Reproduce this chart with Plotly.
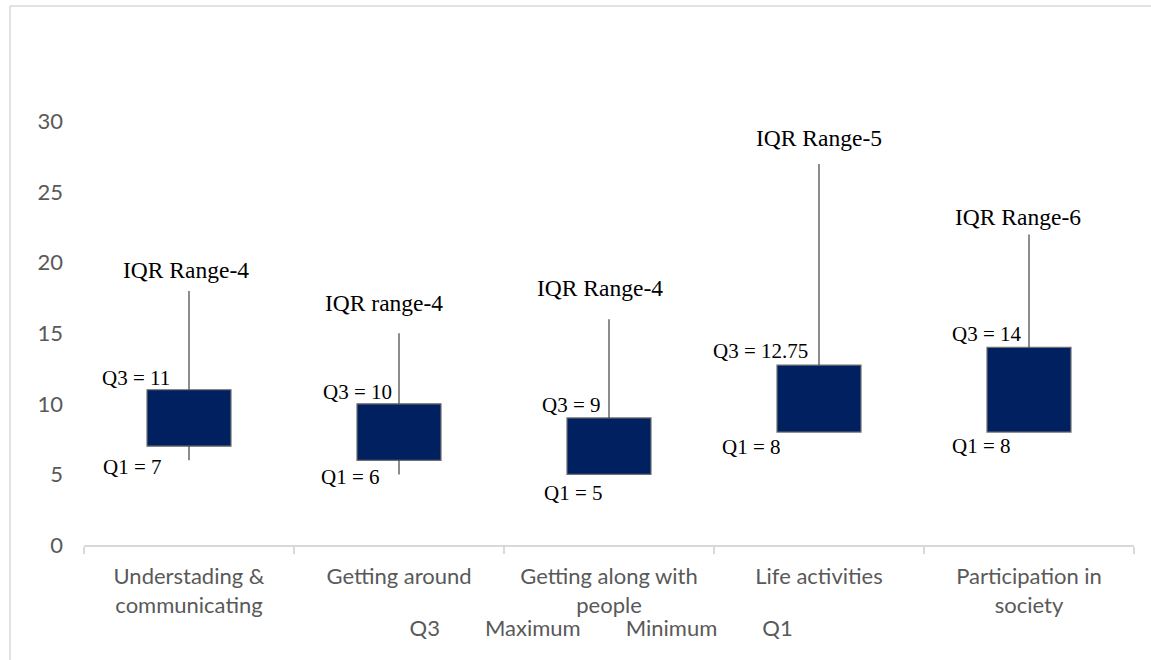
import plotly.graph_objects as go

categories = ["Understading &<br>communicating", "Getting around",
              "Getting along with<br>people", "Life activities",
              "Participation in<br>society"]
q1 = [7, 6, 5, 8, 8]
q3 = [11, 10, 9, 12.75, 14]
maximum = [18, 15, 16, 27, 22]
minimum = [6, 5, 5, 8, 8]
iqr_labels = ["IQR Range-4", "IQR range-4", "IQR Range-4", "IQR Range-5", "IQR Range-6"]
q3_labels = ["Q3 = 11", "Q3 = 10", "Q3 = 9", "Q3 = 12.75", "Q3 = 14"]
q1_labels = ["Q1 = 7", "Q1 = 6", "Q1 = 5", "Q1 = 8", "Q1 = 8"]

# label offsets (pixels)
iqr_shift = [(-3, 21), (-15, 30), (-9, 31), (0, 26), (-11, 17)]
q3_shift = [(-17, 12), (-5, 12), (-6, 13), (-9, 14), (-5, 13)]
q1_shift = [(-25, -21), (-17, -17), (-4, -19), (-36, -15), (-16, -14)]

BOX = "#002060"
GRAY_TXT = "#595959"
AX = "#d9d9d9"
SANS = "Lato, 'Open Sans', sans-serif"
SERIF = "'Liberation Serif', 'Times New Roman', serif"

fig = go.Figure()

# whiskers
wx, wy = [], []
for c, lo, a, b, hi in zip(categories, minimum, q1, q3, maximum):
    wx += [c, c, None, c, c, None]
    wy += [b, hi, None, lo, a, None]
fig.add_trace(go.Scatter(x=wx, y=wy, mode="lines", line=dict(color="#404040", width=1.2),
                         showlegend=False, hoverinfo="skip"))

# boxes (Q1..Q3)
fig.add_trace(go.Bar(x=categories, y=[b - a for a, b in zip(q1, q3)], base=q1,
                     width=0.4, marker=dict(color=BOX, line=dict(color="#707070", width=1.2)),
                     showlegend=False))

# legend entries (series of the stock chart, drawn invisibly)
for name, vals in [("Q3", q3), ("Maximum", maximum), ("Minimum", minimum), ("Q1", q1)]:
    fig.add_trace(go.Scatter(x=categories, y=vals, mode="lines", name=name,
                             line=dict(width=0, color="rgba(0,0,0,0)"), hoverinfo="skip"))

ann = []
for i, c in enumerate(categories):
    ann.append(dict(x=c, y=maximum[i], text=iqr_labels[i], showarrow=False,
                    xanchor="center", yanchor="middle",
                    xshift=iqr_shift[i][0], yshift=iqr_shift[i][1],
                    font=dict(family=SERIF, size=23.5, color="#000000")))
    ann.append(dict(x=c, y=q3[i], text=q3_labels[i], showarrow=False,
                    xanchor="right", yanchor="middle",
                    xshift=q3_shift[i][0], yshift=q3_shift[i][1],
                    font=dict(family=SERIF, size=21, color="#000000")))
    ann.append(dict(x=c, y=q1[i], text=q1_labels[i], showarrow=False,
                    xanchor="right", yanchor="middle",
                    xshift=q1_shift[i][0], yshift=q1_shift[i][1],
                    font=dict(family=SERIF, size=21, color="#000000")))

fig.update_layout(
    width=1151, height=660,
    margin=dict(l=84, r=17, t=51, b=114),
    paper_bgcolor="white", plot_bgcolor="white",
    barmode="overlay",
    annotations=ann,
    showlegend=True,
    legend=dict(orientation="h", x=0.272, xanchor="left", y=-0.165, yanchor="middle",
                font=dict(family=SANS, size=22, color=GRAY_TXT), itemwidth=30,
                bgcolor="rgba(0,0,0,0)"),
    font=dict(family=SANS, color=GRAY_TXT),
    shapes=[
        dict(type="line", xref="paper", yref="paper", x0=-0.0705, x1=1.02, y0=1.0909, y1=1.0909,
             line=dict(color=AX, width=1.5)),
        dict(type="line", xref="paper", yref="paper", x0=-0.0705, x1=-0.0705, y0=1.0909, y1=-0.25,
             line=dict(color=AX, width=1.5)),
    ],
)
fig.update_xaxes(type="category", showline=True, linecolor=AX, linewidth=1.5,
                 ticks="outside", tickson="boundaries", ticklen=7, tickcolor=AX, tickwidth=1.5,
                 ticklabelstandoff=11,
                 showgrid=False, tickfont=dict(family=SANS, size=22, color=GRAY_TXT),
                 range=[-0.5, 4.5])
fig.update_yaxes(range=[0, 35], tickvals=[0, 5, 10, 15, 20, 25, 30], showgrid=False,
                 zeroline=False, showline=False, ticks="", ticklabelstandoff=20,
                 tickfont=dict(family=SANS, size=22, color=GRAY_TXT))

fig.write_html("out.html")
